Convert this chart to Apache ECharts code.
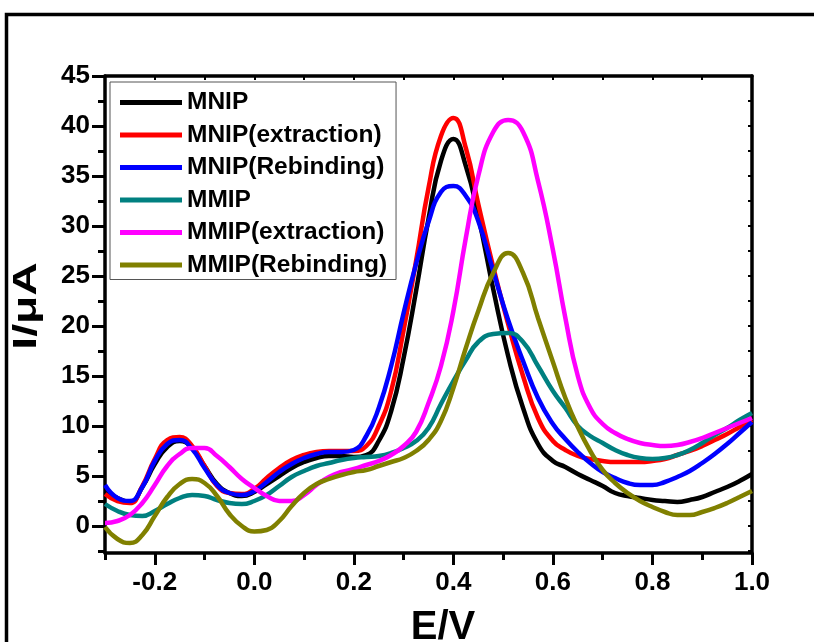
<!DOCTYPE html>
<html><head><meta charset="utf-8">
<script src="https://cdn.jsdelivr.net/npm/echarts@6/dist/echarts.min.js"></script>
<style>html,body{margin:0;padding:0;background:#fff}#c{width:814px;height:642px}</style>
</head><body><div id="c"></div>
<script>
const xValues = [-0.3,-0.275,-0.25,-0.225,-0.2,-0.175,-0.15,-0.125,-0.1,-0.075,-0.05,-0.025,0,0.025,0.05,0.075,0.1,0.125,0.15,0.175,0.2,0.225,0.25,0.275,0.3,0.325,0.35,0.375,0.4,0.425,0.45,0.48,0.51,0.54,0.57,0.6,0.625,0.65,0.675,0.7,0.725,0.75,0.775,0.8,0.825,0.85,0.875,0.9,0.925,0.95,0.975,1.0];
const mnip = [3.5,2.8,2.4,3.9,6.2,7.9,8.5,7.8,6.0,4.2,3.3,3.0,3.4,4.2,5.0,5.8,6.4,6.8,7.0,7.0,6.9,7.1,8.5,11.5,16.8,23.5,30.7,36.5,38.7,36.0,31.0,23.7,17.0,11.8,8.2,6.5,5.9,5.2,4.6,4.0,3.3,3.0,2.8,2.6,2.5,2.4,2.6,2.9,3.4,3.9,4.5,5.2];
const mnipExtraction = [3.2,2.5,2.3,4.0,6.7,8.6,8.9,8.0,6.0,4.0,3.3,3.2,3.7,4.8,5.8,6.6,7.1,7.4,7.5,7.5,7.5,8.0,10.0,13.5,19.6,26.5,33.8,39.0,40.8,37.8,32.2,25.9,20.2,15.0,10.8,8.5,7.6,7.0,6.7,6.5,6.4,6.4,6.4,6.5,6.7,7.1,7.5,8.0,8.6,9.2,9.9,10.6];
const mnipRebinding = [4.1,2.8,2.5,3.9,6.5,8.2,8.6,7.7,5.8,4.1,3.3,3.1,3.5,4.4,5.4,6.2,6.8,7.2,7.4,7.4,7.6,9.0,11.8,16.0,21.3,26.2,30.4,33.4,34.0,33.0,30.5,25.5,20.6,16.5,12.8,10.2,8.7,7.4,6.3,5.4,4.8,4.3,4.1,4.1,4.4,4.9,5.5,6.3,7.2,8.2,9.3,10.4];
const mmip = [2.2,1.5,1.1,1.0,1.5,2.2,2.8,3.1,3.0,2.6,2.3,2.2,2.5,3.1,4.0,4.9,5.5,6.0,6.3,6.6,6.8,6.9,7.0,7.3,7.8,8.5,9.8,12.2,14.5,16.6,18.4,19.2,19.3,18.4,16.0,13.5,11.8,10.0,9.0,8.3,7.6,7.1,6.8,6.7,6.8,7.1,7.6,8.3,9.1,9.8,10.6,11.3];
const mmipExtraction = [0.3,0.5,1.1,2.3,4.1,6.0,7.2,7.8,7.8,7.0,5.9,4.7,3.8,3.0,2.5,2.5,3.1,4.1,4.9,5.4,5.7,6.1,6.5,7.1,8.0,9.4,12.3,16.0,21.5,28.8,35.0,39.4,40.6,39.4,34.5,27.6,20.8,15.0,11.8,10.2,9.3,8.7,8.3,8.1,8.0,8.1,8.4,8.8,9.3,9.8,10.3,10.8];
const mmipRebinding = [-0.1,-1.3,-1.7,-0.9,1.0,2.9,4.2,4.7,4.3,3.0,1.2,0.0,-0.55,-0.4,0.5,2.0,3.3,4.2,4.7,5.1,5.4,5.6,6.0,6.4,6.8,7.5,8.6,10.5,13.8,17.8,21.5,25.3,27.3,25.3,20.8,16.4,12.8,9.9,7.5,5.6,4.3,3.3,2.5,1.9,1.4,1.1,1.1,1.4,1.8,2.3,2.9,3.5];

const seriesNames = ['MNIP','MNIP(extraction)','MNIP(Rebinding)','MMIP','MMIP(extraction)','MMIP(Rebinding)'];
const seriesValues = [mnip, mnipExtraction, mnipRebinding, mmip, mmipExtraction, mmipRebinding];
const seriesColors = ['#000000','#ff0000','#0000ff','#008080','#ff00ff','#808000'];

const xMajorTicks = [-0.2,0,0.2,0.4,0.6,0.8,1.0];
const xMinorTicks = [-0.3,-0.1,0.1,0.3,0.5,0.7,0.9];
const xAllTicks = [-0.3,-0.2,-0.1,0,0.1,0.2,0.3,0.4,0.5,0.6,0.7,0.8,0.9,1.0];
const yMajorTicks = [0,5,10,15,20,25,30,35,40,45];
const yMinorTicks = [-2.5,2.5,7.5,12.5,17.5,22.5,27.5,32.5,37.5,42.5];
const yAllTicks = [-2.5,0,2.5,5,7.5,10,12.5,15,17.5,20,22.5,25,27.5,30,32.5,35,37.5,40,42.5,45];

const FONT = '"Liberation Sans", Arial, sans-serif';
const X_MIN = -0.3, X_MAX = 1.0, Y_MIN = -2.7, Y_MAX = 45;
const lineAx = {show:true, onZero:false, lineStyle:{color:'#000', width:3.5}};
const noLine = {show:false, onZero:false};

const chart = echarts.init(document.getElementById('c'));
chart.setOption({
  animation:false,
  backgroundColor:'#fff',
  grid:{left:105, right:62, top:76, bottom:89, containLabel:false},
  xAxis:[
    {type:'value', min:X_MIN, max:X_MAX, position:'bottom', axisLine:lineAx, splitLine:{show:false},
     axisTick:{show:true, customValues:xMajorTicks, length:12, lineStyle:{color:'#000', width:3}},
     axisLabel:{show:true, customValues:xMajorTicks, margin:17, formatter:v=>v.toFixed(1), color:'#000', fontFamily:FONT, fontWeight:'bold', fontSize:26}},
    {type:'value', min:X_MIN, max:X_MAX, position:'bottom', axisLine:noLine, splitLine:{show:false},
     axisTick:{show:true, customValues:xMinorTicks, length:7, lineStyle:{color:'#000', width:3}},
     axisLabel:{show:false}},
    {type:'value', min:X_MIN, max:X_MAX, position:'top', axisLine:lineAx, splitLine:{show:false},
     axisTick:{show:true, inside:true, customValues:xAllTicks, length:4, lineStyle:{color:'#000', width:2}},
     axisLabel:{show:false}}
  ],
  yAxis:[
    {type:'value', min:Y_MIN, max:Y_MAX, position:'left', axisLine:lineAx, splitLine:{show:false},
     axisTick:{show:true, customValues:yMajorTicks, length:13, lineStyle:{color:'#000', width:3}},
     axisLabel:{show:true, customValues:yMajorTicks, margin:15, color:'#000', fontFamily:FONT, fontWeight:'bold', fontSize:26}},
    {type:'value', min:Y_MIN, max:Y_MAX, position:'left', axisLine:noLine, splitLine:{show:false},
     axisTick:{show:true, customValues:yMinorTicks, length:7, lineStyle:{color:'#000', width:3}},
     axisLabel:{show:false}},
    {type:'value', min:Y_MIN, max:Y_MAX, position:'right', axisLine:lineAx, splitLine:{show:false},
     axisTick:{show:true, inside:true, customValues:yAllTicks, length:4, lineStyle:{color:'#000', width:2}},
     axisLabel:{show:false}}
  ],
  legend:{
    orient:'vertical', left:110, top:82, padding:[8,9,2,10], itemGap:7.5,
    itemWidth:62, itemHeight:5, icon:'rect',
    borderColor:'#555', borderWidth:1, backgroundColor:'#fff',
    textStyle:{fontFamily:FONT, fontWeight:'bold', fontSize:24.5, lineHeight:24, color:'#000'},
    data:seriesNames
  },
  graphic:[
    {type:'rect', silent:true, shape:{x:6.5, y:14.5, width:900, height:800}, style:{fill:'none', stroke:'#000', lineWidth:3.5}},
    {type:'text', silent:true, x:27, y:306, rotation:Math.PI/2, scaleX:1.4,
     style:{text:'I/μA', font:'bold 33px '+FONT, textAlign:'center', textVerticalAlign:'middle', fill:'#000'}},
    {type:'text', silent:true, x:443, y:628,
     style:{text:'E/V', font:'bold 40px '+FONT, textAlign:'center', textVerticalAlign:'middle', fill:'#000'}}
  ],
  series: seriesNames.map((name,k)=>({
    name, type:'line', xAxisIndex:0, yAxisIndex:0, smooth:0.5, symbol:'none',
    lineStyle:{color:seriesColors[k], width:4.5}, itemStyle:{color:seriesColors[k]},
    data: xValues.map((x,i)=>[x, seriesValues[k][i]])
  }))
});
</script></body></html>
